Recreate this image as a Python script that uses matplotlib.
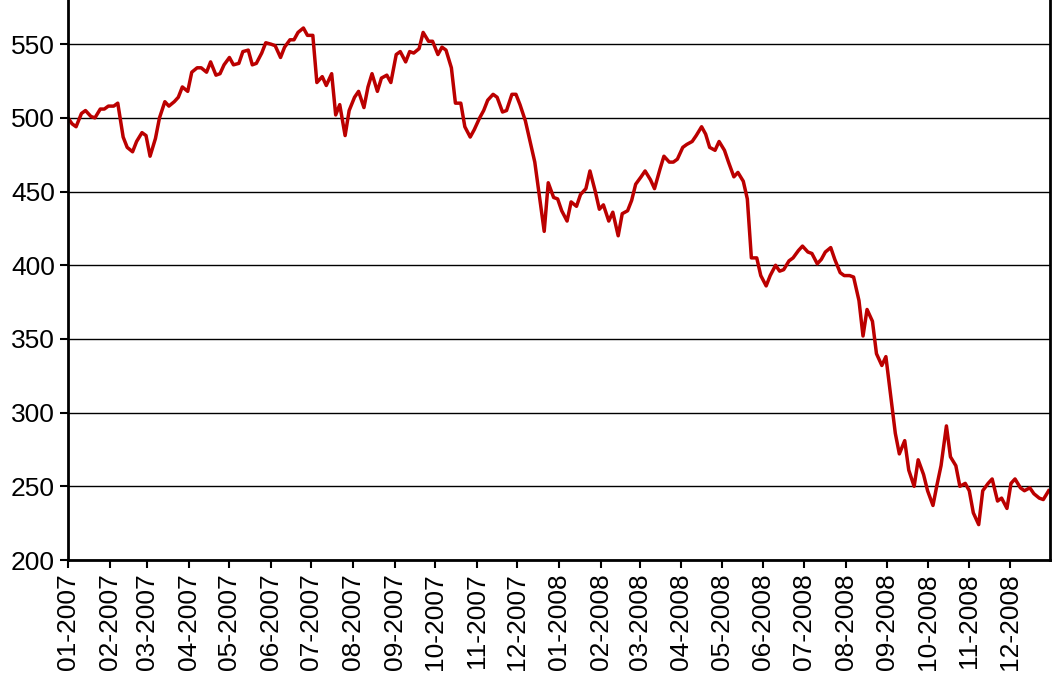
import matplotlib
matplotlib.use("Agg")
import matplotlib.pyplot as plt
import matplotlib.dates as mdates
import numpy as np
import datetime as dt

# index values, roughly evenly spaced over 2007-2008
vals = [500,496,494,503,505,501,500,506,506,508,508,510,487,480,477,484,490,488,474,486,500,511,508,511,514,521,518,531,534,534,531,538,529,530,536,541,536,537,545,546,536,537,544,551,550,549,541,548,553,553,558,561,556,556,524,528,522,530,502,509,488,505,514,518,507,521,530,518,527,529,524,543,545,538,545,544,547,558,552,552,543,548,546,534,510,510,494,487,492,500,505,512,516,514,504,505,516,516,509,498,486,470,450,423,456,446,445,437,430,443,440,448,452,464,450,438,441,430,436,420,435,437,444,455,460,464,458,452,465,474,470,470,472,480,482,484,488,494,489,480,478,484,478,470,460,463,457,445,405,405,393,386,393,400,396,397,403,405,410,413,409,408,401,404,409,412,404,395,393,393,392,376,352,370,362,340,332,338,308,286,272,281,261,250,268,258,247,237,251,264,291,270,264,250,252,247,232,224,247,252,255,240,242,235,252,255,249,247,249,245,242,241,247]

start = dt.date(2007, 1, 1)
offsets = np.linspace(0, 729, len(vals))
dates = [start + dt.timedelta(days=float(d)) for d in offsets]

yticks = [200, 250, 300, 350, 400, 450, 500, 550]

plt.rcParams['font.family'] = ['Liberation Sans', 'DejaVu Sans']
fig = plt.figure(figsize=(10.55, 6.75), dpi=100)
ax = fig.add_axes([68/1055, 1-560/675, (1050-68)/1055, 560/675])
ax.plot(dates, vals, color="#bb0000", lw=2.5)
ax.set_ylim(200, 580)
ax.set_xlim(dt.date(2007, 1, 1), dt.date(2008, 12, 31))
ax.set_yticks(yticks)
ax.yaxis.grid(True, color="black", lw=1)
ax.set_axisbelow(True)
ax.xaxis.set_major_locator(mdates.MonthLocator())
ax.xaxis.set_major_formatter(mdates.DateFormatter("%m-%Y"))
plt.setp(ax.get_xticklabels(), rotation=90)
ax.tick_params(labelsize=19, width=1.5, length=6)
ax.spines["top"].set_visible(False)
for s in ["left", "right", "bottom"]:
    ax.spines[s].set_linewidth(2)
fig.savefig("out.png", dpi=100)
